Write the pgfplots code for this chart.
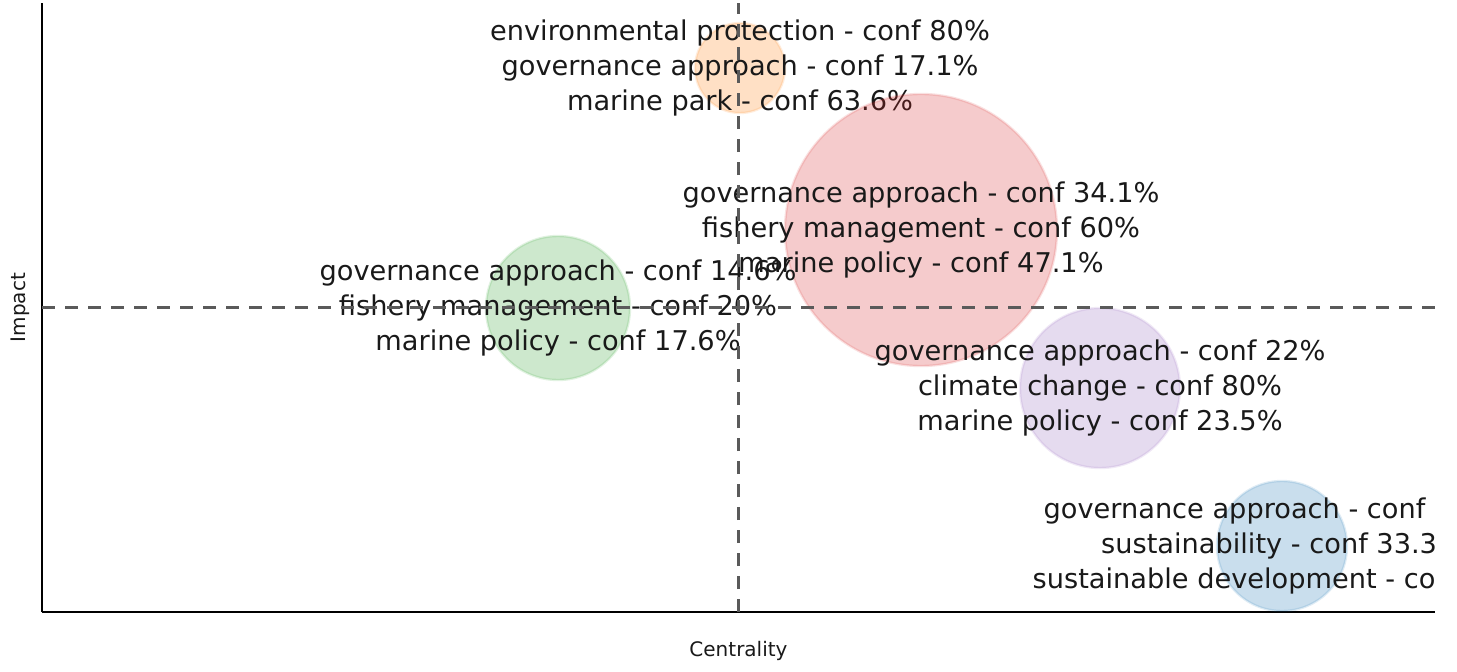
\documentclass[border=0pt]{standalone}
\usepackage{pgfplots}
\pgfplotsset{compat=1.18}
\usepackage{fontspec}
\setmainfont{DejaVu Sans}
\definecolor{tabblue}{RGB}{31,119,180}
\definecolor{taborange}{RGB}{255,127,14}
\definecolor{tabgreen}{RGB}{44,160,44}
\definecolor{tabred}{RGB}{214,39,40}
\definecolor{tabpurple}{RGB}{148,103,189}
\definecolor{dashgray}{RGB}{90,90,90}
\definecolor{txt}{RGB}{25,25,25}
\begin{document}
\begin{tikzpicture}
\useasboundingbox (-21pt,-29.5pt) rectangle (707.5pt,306pt);
\begin{axis}[
  at={(0,0)}, anchor=south west,
  width=696.5pt, height=304.5pt, scale only axis,
  xmin=0, xmax=1393, ymin=0, ymax=609,
  axis x line=bottom, axis y line=left,
  axis line style={-, line width=0.75pt, black},
  xtick=\empty, ytick=\empty,
  xlabel={Centrality}, ylabel={Impact},
  label style={font=\fontsize{10}{12}\selectfont, text=txt},
  xlabel style={at={(axis description cs:0.5,0)}, anchor=center, yshift=-19.5pt},
  ylabel style={at={(axis description cs:0,0.5)}, anchor=center, yshift=11pt},
  clip marker paths=true,
  nodes near coords align=center,
  every node near coord/.append style={anchor=center, align=center, opacity=1, text opacity=1, fill opacity=1, draw opacity=1, text=txt, font=\fontsize{13.6}{17.5}\selectfont},
  bubble/.style={only marks, mark=*, mark options={fill=#1, fill opacity=0.24, draw=#1, draw opacity=0.14, line width=1.2pt}},
]
% orange
\addplot[bubble=taborange, mark size=22.5pt,
  nodes near coords={environmental protection - conf 80\%\\governance approach - conf 17.1\%\\marine park - conf 63.6\%}]
  coordinates {(698,544)};
% red
\addplot[bubble=tabred, mark size=68pt,
  nodes near coords={governance approach - conf 34.1\%\\fishery management - conf 60\%\\marine policy - conf 47.1\%}]
  coordinates {(879,382)};
% green
\addplot[bubble=tabgreen, mark size=36pt,
  nodes near coords={governance approach - conf 14.6\%\\fishery management - conf 20\%\\marine policy - conf 17.6\%}]
  coordinates {(516,304)};
% purple
\addplot[bubble=tabpurple, mark size=40pt,
  nodes near coords={governance approach - conf 22\%\\climate change - conf 80\%\\marine policy - conf 23.5\%}]
  coordinates {(1058,224)};
% blue
\addplot[bubble=tabblue, mark size=32.5pt,
  nodes near coords={governance approach - conf 12.2\%\\sustainability - conf 33.3\%\\sustainable development - conf 50\%}]
  coordinates {(1240,66)};
% dashed quadrant lines
\addplot[dashgray, line width=1.1pt, dash pattern=on 6.5pt off 5pt] coordinates {(696.5,0) (696.5,609)};
\addplot[dashgray, line width=1.1pt, dash pattern=on 6.5pt off 5pt] coordinates {(0,304.5) (1393,304.5)};
\end{axis}
\end{tikzpicture}
\end{document}
